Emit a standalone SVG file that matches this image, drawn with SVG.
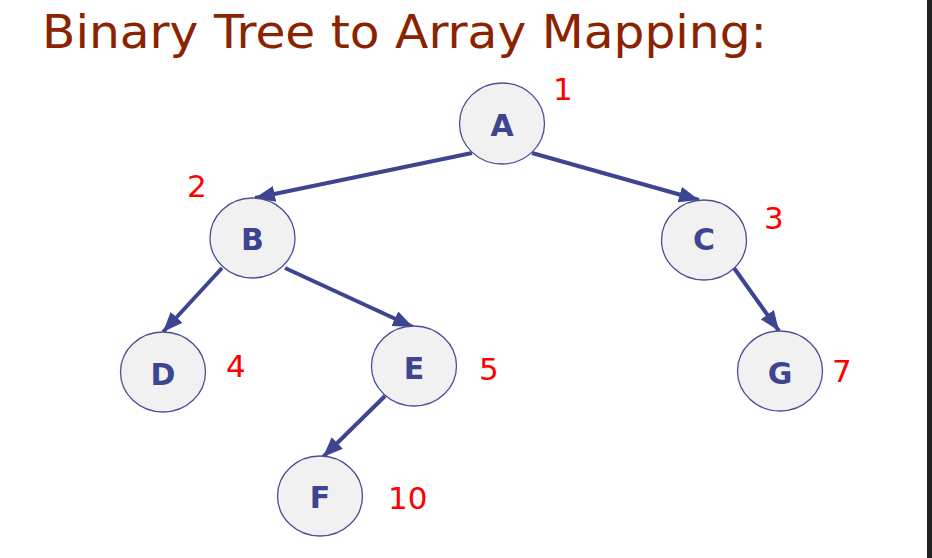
<svg xmlns="http://www.w3.org/2000/svg" width="932" height="558" viewBox="0 0 932 558">
<style>
.node ellipse{fill:#f1f1f1;stroke:#4a4f96;stroke-width:1.3}
.node text{font-family:"DejaVu Sans","Liberation Sans",sans-serif;font-weight:bold;font-size:30px;fill:#3e4590;text-anchor:middle}
.idx{font-family:"DejaVu Sans","Liberation Sans",sans-serif;font-size:31px;fill:#ff0000}
.edge{stroke:#3e4590;stroke-width:4;fill:none;marker-end:url(#ah)}
</style>
<defs>
<marker id="ah" markerUnits="userSpaceOnUse" markerWidth="20" markerHeight="16" refX="20" refY="8" orient="auto">
<path d="M0,0 L20,8 L0,16 z" fill="#3e4590"/>
</marker>
</defs>
<rect width="932" height="558" fill="#ffffff"/>
<rect x="927" y="0" width="5" height="558" fill="#222222"/>
<text x="42" y="48" font-family="DejaVu Sans,'Liberation Sans',sans-serif" font-size="47" fill="#8b2300" textLength="725" lengthAdjust="spacingAndGlyphs">Binary Tree to Array Mapping:</text>
<g id="connectors">
<line class="edge" x1="472" y1="153" x2="255" y2="198"/>
<line class="edge" x1="532" y1="153" x2="699" y2="200"/>
<line class="edge" x1="222" y1="268" x2="163" y2="332"/>
<line class="edge" x1="285" y1="268" x2="413" y2="327"/>
<line class="edge" x1="734" y1="268" x2="779" y2="331"/>
<line class="edge" x1="385" y1="396" x2="323" y2="457"/>
</g>
<g id="A" class="node"><ellipse cx="502" cy="123.5" rx="42.5" ry="40.5"/><text x="502" y="136">A</text></g>
<g id="B" class="node"><ellipse cx="252.5" cy="238" rx="42.5" ry="40"/><text x="252.5" y="250">B</text></g>
<g id="C" class="node"><ellipse cx="704" cy="240" rx="42.5" ry="40"/><text x="704" y="250">C</text></g>
<g id="D" class="node"><ellipse cx="163" cy="372" rx="42.5" ry="40"/><text x="163" y="385">D</text></g>
<g id="E" class="node"><ellipse cx="414" cy="366" rx="42.5" ry="40"/><text x="414" y="379">E</text></g>
<g id="G" class="node"><ellipse cx="780" cy="371" rx="42.5" ry="40"/><text x="780" y="384">G</text></g>
<g id="F" class="node"><ellipse cx="320" cy="496" rx="42.5" ry="40"/><text x="320" y="508">F</text></g>
<text class="idx" x="553" y="100">1</text>
<text class="idx" x="187" y="197">2</text>
<text class="idx" x="764" y="229">3</text>
<text class="idx" x="226" y="377">4</text>
<text class="idx" x="479" y="380">5</text>
<text class="idx" x="832" y="382">7</text>
<text class="idx" x="388" y="509">10</text>
</svg>
